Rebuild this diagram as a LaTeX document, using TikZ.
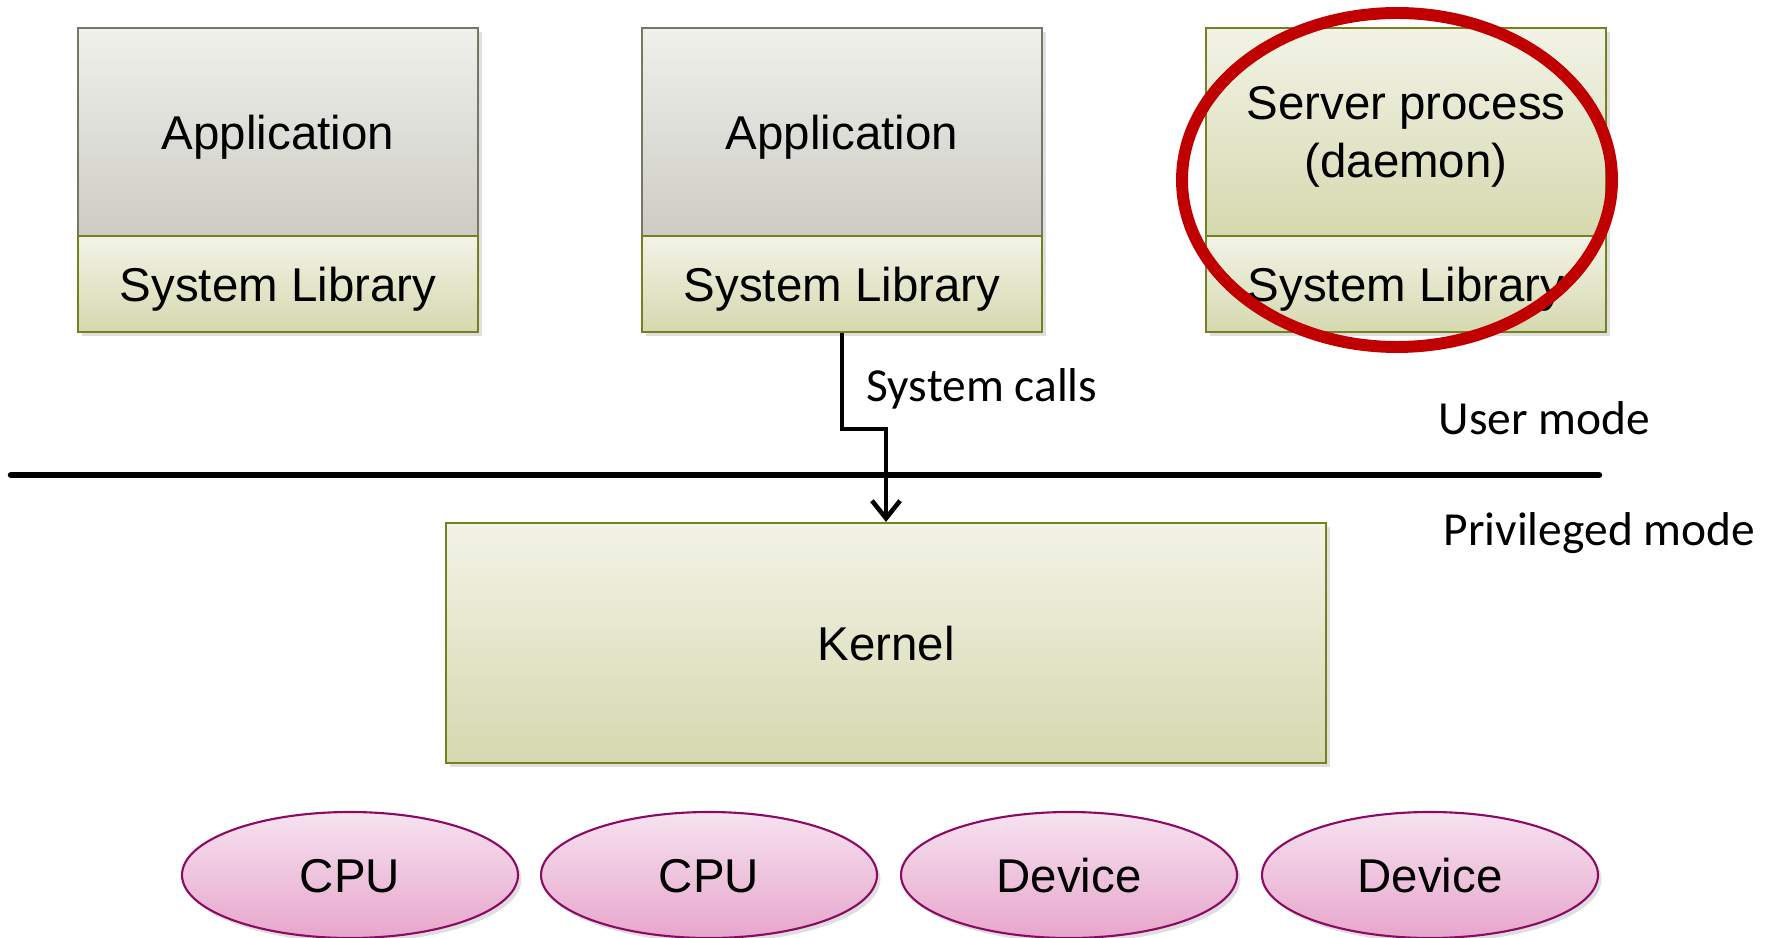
\documentclass[tikz,border=0pt]{standalone}
\usepackage{fontspec}
\setmainfont{Liberation Sans}
\newfontfamily\calibri{Carlito}
\usepackage{xcolor}
\usepackage{tikz}
\usetikzlibrary{arrows.meta}
\usetikzlibrary{shapes.geometric}
\usetikzlibrary{shadows}

\definecolor{greentop}{RGB}{242,243,230}
\definecolor{greenbot}{RGB}{213,217,175}
\definecolor{olivedraw}{RGB}{118,128,30}
\definecolor{graytop}{RGB}{240,240,236}
\definecolor{graybot}{RGB}{204,204,196}
\definecolor{graydraw}{RGB}{118,118,100}
\definecolor{pinktop}{RGB}{246,226,239}
\definecolor{pinkbot}{RGB}{231,166,204}
\definecolor{pinkdraw}{RGB}{140,10,100}
\definecolor{markred}{RGB}{192,0,0}

\tikzset{
	softshadow/.style={drop shadow={shadow xshift=1pt, shadow yshift=-1.2pt, opacity=.25}},
	capcenter/.style={text height=9.7pt, text depth=0pt},
	appbox/.style={draw=graydraw, line width=.6pt, top color=graytop, bottom color=graybot, inner sep=0pt, minimum width=40mm, minimum height=20.8mm, capcenter, softshadow},
	libbox/.style={draw=olivedraw, line width=.6pt, top color=greentop, bottom color=greenbot, inner sep=0pt, minimum width=40mm, minimum height=9.6mm, capcenter, softshadow},
	hwnode/.style={ellipse, draw=pinkdraw, line width=.6pt, top color=pinktop, bottom color=pinkbot, inner sep=0pt, minimum width=33.6mm, minimum height=12.6mm, capcenter, softshadow},
	modelabel/.style={font=\calibri\fontsize{13.5}{16.5}\selectfont, inner sep=0pt},
}

\begin{document}
\begin{tikzpicture}[x=0.1mm, y=-0.1mm, font=\fontsize{13.5}{16.5}\selectfont]
	\useasboundingbox (0,0) rectangle (1765,938);

	% user side
	\node[appbox] (app1) at (278,132) {Application};
	\node[libbox] (lib1) at (278,284) {System Library};
	\node[appbox] (app2) at (842,132) {Application};
	\node[libbox] (lib2) at (842,284) {System Library};
	\node[libbox, minimum height=20.8mm, text height=, text depth=0pt, align=center] (srv) at (1406,132) {Server process\\(daemon)};
	\node[libbox] (lib3) at (1406,284) {System Library};

	\draw[markred, line width=3.4pt] (1397,180) ellipse [x radius=21.5mm, y radius=16.7mm];

	% mode boundary
	\coordinate (sepL) at (11,475);
	\coordinate (sepR) at (1599,475);
	\draw[line width=1.85pt, line cap=round, softshadow] (sepL) -- (sepR);

	\node[modelabel, anchor=base west] (usermode) at (1438,435) {User mode};
	\node[modelabel, anchor=base west] (privmode) at (1443,546) {Privileged mode};

	% kernel
	\node[libbox, minimum width=88mm, minimum height=24mm] (kernel) at (886,643) {Kernel};

	\draw[line width=1.3pt, -{Straight Barb[length=5pt, width=8pt]}] (lib2.south) -- ++(0,96) -| (kernel.north);
	\node[modelabel, anchor=base west] (calls) at (866,402) {System calls};

	% hardware
	\node[hwnode] (cpu1) at (350,875) {CPU};
	\node[hwnode] (cpu2) at (709,875) {CPU};
	\node[hwnode] (dev1) at (1069,875) {Device};
	\node[hwnode] (dev2) at (1430,875) {Device};
\end{tikzpicture}
\end{document}
